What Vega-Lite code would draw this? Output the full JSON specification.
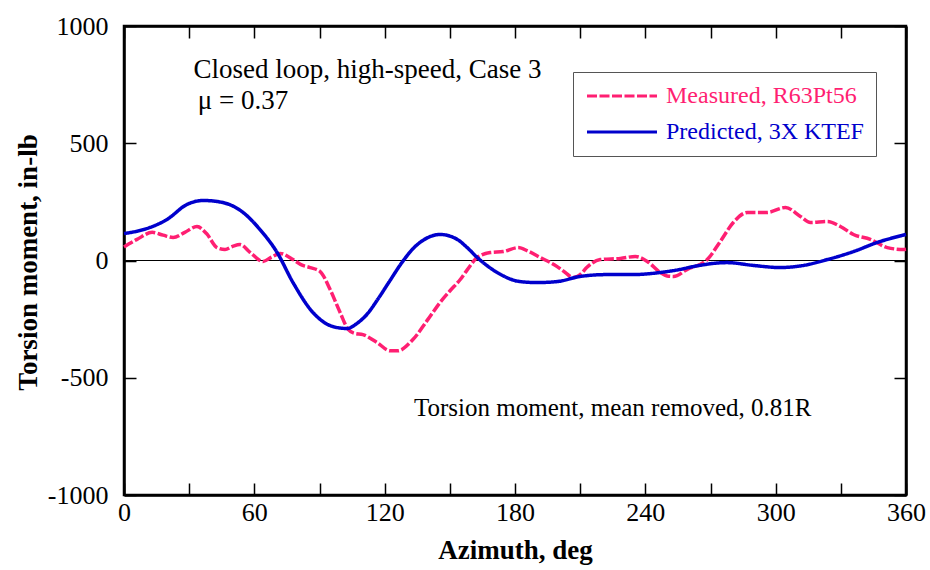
{
  "$schema": "https://vega.github.io/schema/vega-lite/v6.json",
  "width": 782,
  "height": 469,
  "autosize": "none",
  "padding": {"left": 124, "top": 26, "right": 24, "bottom": 75},
  "background": "white",
  "config": {
    "font": "Liberation Serif",
    "view": {"stroke": "black", "strokeWidth": 2.5},
    "axis": {
      "grid": false,
      "domainColor": "black",
      "domainWidth": 2.5,
      "tickColor": "black",
      "tickWidth": 1.5,
      "tickSize": -12,
      "labelFont": "Liberation Serif",
      "labelFontSize": 26,
      "labelColor": "black",
      "titleFont": "Liberation Serif",
      "titleFontSize": 27,
      "titleFontWeight": "bold",
      "titleColor": "black"
    }
  },
  "datasets": {
    "lines": [
      {"az": 0, "val": 58, "series": "Measured, R63Pt56"},
      {"az": 6, "val": 90, "series": "Measured, R63Pt56"},
      {"az": 13, "val": 120, "series": "Measured, R63Pt56"},
      {"az": 18, "val": 108, "series": "Measured, R63Pt56"},
      {"az": 22.6, "val": 98, "series": "Measured, R63Pt56"},
      {"az": 28, "val": 120, "series": "Measured, R63Pt56"},
      {"az": 33.6, "val": 145, "series": "Measured, R63Pt56"},
      {"az": 38, "val": 115, "series": "Measured, R63Pt56"},
      {"az": 42.8, "val": 55, "series": "Measured, R63Pt56"},
      {"az": 46.5, "val": 47, "series": "Measured, R63Pt56"},
      {"az": 50, "val": 60, "series": "Measured, R63Pt56"},
      {"az": 53.4, "val": 68, "series": "Measured, R63Pt56"},
      {"az": 58, "val": 35, "series": "Measured, R63Pt56"},
      {"az": 64, "val": -4, "series": "Measured, R63Pt56"},
      {"az": 68, "val": 15, "series": "Measured, R63Pt56"},
      {"az": 71.9, "val": 30, "series": "Measured, R63Pt56"},
      {"az": 77.8, "val": 4, "series": "Measured, R63Pt56"},
      {"az": 82, "val": -20, "series": "Measured, R63Pt56"},
      {"az": 85.7, "val": -30, "series": "Measured, R63Pt56"},
      {"az": 90.3, "val": -47, "series": "Measured, R63Pt56"},
      {"az": 94.9, "val": -124, "series": "Measured, R63Pt56"},
      {"az": 99.5, "val": -222, "series": "Measured, R63Pt56"},
      {"az": 103.2, "val": -294, "series": "Measured, R63Pt56"},
      {"az": 106, "val": -310, "series": "Measured, R63Pt56"},
      {"az": 110, "val": -316, "series": "Measured, R63Pt56"},
      {"az": 116.5, "val": -350, "series": "Measured, R63Pt56"},
      {"az": 122.5, "val": -385, "series": "Measured, R63Pt56"},
      {"az": 126, "val": -385, "series": "Measured, R63Pt56"},
      {"az": 133, "val": -337, "series": "Measured, R63Pt56"},
      {"az": 140, "val": -250, "series": "Measured, R63Pt56"},
      {"az": 145.5, "val": -179, "series": "Measured, R63Pt56"},
      {"az": 150, "val": -130, "series": "Measured, R63Pt56"},
      {"az": 154.8, "val": -81, "series": "Measured, R63Pt56"},
      {"az": 158, "val": -40, "series": "Measured, R63Pt56"},
      {"az": 162.6, "val": 13, "series": "Measured, R63Pt56"},
      {"az": 168.6, "val": 34, "series": "Measured, R63Pt56"},
      {"az": 174.6, "val": 38, "series": "Measured, R63Pt56"},
      {"az": 181.5, "val": 55, "series": "Measured, R63Pt56"},
      {"az": 186, "val": 40, "series": "Measured, R63Pt56"},
      {"az": 191.6, "val": 13, "series": "Measured, R63Pt56"},
      {"az": 199.4, "val": -26, "series": "Measured, R63Pt56"},
      {"az": 203, "val": -50, "series": "Measured, R63Pt56"},
      {"az": 206.8, "val": -73, "series": "Measured, R63Pt56"},
      {"az": 210, "val": -60, "series": "Measured, R63Pt56"},
      {"az": 213, "val": -30, "series": "Measured, R63Pt56"},
      {"az": 219.2, "val": 4, "series": "Measured, R63Pt56"},
      {"az": 228.5, "val": 9, "series": "Measured, R63Pt56"},
      {"az": 235.4, "val": 17, "series": "Measured, R63Pt56"},
      {"az": 240.9, "val": -4, "series": "Measured, R63Pt56"},
      {"az": 246.9, "val": -51, "series": "Measured, R63Pt56"},
      {"az": 250, "val": -66, "series": "Measured, R63Pt56"},
      {"az": 253, "val": -68, "series": "Measured, R63Pt56"},
      {"az": 259.3, "val": -38, "series": "Measured, R63Pt56"},
      {"az": 268.5, "val": 4, "series": "Measured, R63Pt56"},
      {"az": 274.5, "val": 81, "series": "Measured, R63Pt56"},
      {"az": 280.5, "val": 162, "series": "Measured, R63Pt56"},
      {"az": 287, "val": 205, "series": "Measured, R63Pt56"},
      {"az": 296, "val": 205, "series": "Measured, R63Pt56"},
      {"az": 304.5, "val": 226, "series": "Measured, R63Pt56"},
      {"az": 311.4, "val": 188, "series": "Measured, R63Pt56"},
      {"az": 316, "val": 162, "series": "Measured, R63Pt56"},
      {"az": 323.8, "val": 166, "series": "Measured, R63Pt56"},
      {"az": 329.8, "val": 145, "series": "Measured, R63Pt56"},
      {"az": 335.8, "val": 111, "series": "Measured, R63Pt56"},
      {"az": 343.6, "val": 90, "series": "Measured, R63Pt56"},
      {"az": 351.4, "val": 55, "series": "Measured, R63Pt56"},
      {"az": 358.8, "val": 47, "series": "Measured, R63Pt56"},
      {"az": 360, "val": 48, "series": "Measured, R63Pt56"},
      {"az": 0, "val": 115, "series": "Predicted, 3X KTEF"},
      {"az": 6, "val": 125, "series": "Predicted, 3X KTEF"},
      {"az": 12, "val": 141, "series": "Predicted, 3X KTEF"},
      {"az": 19.8, "val": 175, "series": "Predicted, 3X KTEF"},
      {"az": 29, "val": 239, "series": "Predicted, 3X KTEF"},
      {"az": 36.5, "val": 256, "series": "Predicted, 3X KTEF"},
      {"az": 45.6, "val": 247, "series": "Predicted, 3X KTEF"},
      {"az": 54.8, "val": 205, "series": "Predicted, 3X KTEF"},
      {"az": 62.6, "val": 132, "series": "Predicted, 3X KTEF"},
      {"az": 70.5, "val": 34, "series": "Predicted, 3X KTEF"},
      {"az": 77.8, "val": -94, "series": "Predicted, 3X KTEF"},
      {"az": 87, "val": -222, "series": "Predicted, 3X KTEF"},
      {"az": 96.3, "val": -282, "series": "Predicted, 3X KTEF"},
      {"az": 102.7, "val": -290, "series": "Predicted, 3X KTEF"},
      {"az": 107, "val": -270, "series": "Predicted, 3X KTEF"},
      {"az": 112, "val": -228, "series": "Predicted, 3X KTEF"},
      {"az": 117, "val": -163, "series": "Predicted, 3X KTEF"},
      {"az": 122, "val": -92, "series": "Predicted, 3X KTEF"},
      {"az": 128, "val": -8, "series": "Predicted, 3X KTEF"},
      {"az": 133, "val": 50, "series": "Predicted, 3X KTEF"},
      {"az": 138, "val": 88, "series": "Predicted, 3X KTEF"},
      {"az": 145.5, "val": 111, "series": "Predicted, 3X KTEF"},
      {"az": 153.4, "val": 90, "series": "Predicted, 3X KTEF"},
      {"az": 158, "val": 55, "series": "Predicted, 3X KTEF"},
      {"az": 162.6, "val": 13, "series": "Predicted, 3X KTEF"},
      {"az": 171.8, "val": -51, "series": "Predicted, 3X KTEF"},
      {"az": 182.4, "val": -90, "series": "Predicted, 3X KTEF"},
      {"az": 190.2, "val": -94, "series": "Predicted, 3X KTEF"},
      {"az": 199.4, "val": -90, "series": "Predicted, 3X KTEF"},
      {"az": 210, "val": -68, "series": "Predicted, 3X KTEF"},
      {"az": 222.5, "val": -60, "series": "Predicted, 3X KTEF"},
      {"az": 234.5, "val": -60, "series": "Predicted, 3X KTEF"},
      {"az": 246.9, "val": -51, "series": "Predicted, 3X KTEF"},
      {"az": 256, "val": -38, "series": "Predicted, 3X KTEF"},
      {"az": 262, "val": -26, "series": "Predicted, 3X KTEF"},
      {"az": 277.7, "val": -9, "series": "Predicted, 3X KTEF"},
      {"az": 289.7, "val": -21, "series": "Predicted, 3X KTEF"},
      {"az": 302, "val": -30, "series": "Predicted, 3X KTEF"},
      {"az": 312.8, "val": -21, "series": "Predicted, 3X KTEF"},
      {"az": 323.8, "val": 4, "series": "Predicted, 3X KTEF"},
      {"az": 335.8, "val": 38, "series": "Predicted, 3X KTEF"},
      {"az": 346.8, "val": 77, "series": "Predicted, 3X KTEF"},
      {"az": 360, "val": 111, "series": "Predicted, 3X KTEF"}
    ],
    "notesTop": [
      {"az": 32, "val": 812, "text": "Closed loop, high-speed, Case 3"},
      {"az": 34, "val": 680, "text": "μ = 0.37"}
    ],
    "notesBottom": [
      {"az": 133.5, "val": -627, "text": "Torsion moment, mean removed, 0.81R"}
    ],
    "zero": [{"val": 0}]
  },
  "layer": [
    {
      "data": {"name": "zero"},
      "mark": {"type": "rule", "color": "black", "strokeWidth": 1.2},
      "encoding": {
        "y": {"field": "val", "type": "quantitative", "axis": null}
      }
    },
    {
      "data": {"name": "lines"},
      "mark": {"type": "line", "strokeWidth": 3.5, "interpolate": "monotone"},
      "encoding": {
        "x": {
          "field": "az", "type": "quantitative",
          "scale": {"domain": [0, 360], "nice": false},
          "axis": {
            "orient": "bottom",
            "title": "Azimuth, deg",
            "values": [0, 30, 60, 90, 120, 150, 180, 210, 240, 270, 300, 330, 360],
            "labelExpr": "datum.value % 60 == 0 ? datum.label : ''",
            "labelPadding": 16,
            "titlePadding": 12,
            "labelFlush": false
          }
        },
        "y": {
          "field": "val", "type": "quantitative",
          "scale": {"domain": [-1000, 1000], "nice": false},
          "axis": {
            "orient": "left",
            "title": "Torsion moment, in-lb",
            "values": [-1000, -500, 0, 500, 1000],
            "labelExpr": "'' + datum.value",
            "labelPadding": 28,
            "titleX": -96,
            "titleY": 236,
            "titleAngle": -90,
            "titleAlign": "center",
            "titleBaseline": "middle",
            "labelFlush": false
          }
        },
        "color": {
          "field": "series", "type": "nominal",
          "scale": {"domain": ["Measured, R63Pt56", "Predicted, 3X KTEF"], "range": ["#ff1f72", "#0000cc"]},
          "legend": {
            "title": null,
            "orient": "none",
            "legendX": 449,
            "legendY": 46,
            "symbolType": "M-2,0H12",
            "symbolSize": 100,
            "symbolStrokeWidth": 3,
            "labelFont": "Liberation Serif",
            "labelFontSize": 24,
            "labelLimit": 400,
            "labelOffset": 57,
            "rowPadding": 12,
            "padding": 12,
            "strokeColor": "#555555",
            "fillColor": "white",
            "encode": {
              "labels": {"update": {"fill": {"signal": "datum.value === 'Measured, R63Pt56' ? '#ff1f72' : '#0000cc'"}}}
            }
          }
        },
        "strokeDash": {
          "field": "series", "type": "nominal",
          "scale": {"domain": ["Measured, R63Pt56", "Predicted, 3X KTEF"], "range": [[10, 2.5], [1, 0]]},
          "legend": null
        }
      }
    },
    {
      "data": {"name": "notesTop"},
      "mark": {"type": "text", "align": "left", "baseline": "middle", "font": "Liberation Serif", "fontSize": 27, "color": "black"},
      "encoding": {
        "x": {
          "field": "az", "type": "quantitative",
          "axis": {"orient": "top", "title": null, "labels": false, "values": [0, 30, 60, 90, 120, 150, 180, 210, 240, 270, 300, 330, 360]}
        },
        "y": {
          "field": "val", "type": "quantitative",
          "axis": {"orient": "right", "title": null, "labels": false, "values": [-1000, -500, 0, 500, 1000]}
        },
        "text": {"field": "text"}
      }
    },
    {
      "data": {"name": "notesBottom"},
      "mark": {"type": "text", "align": "left", "baseline": "middle", "font": "Liberation Serif", "fontSize": 25, "color": "black"},
      "encoding": {
        "x": {"field": "az", "type": "quantitative", "axis": null},
        "y": {"field": "val", "type": "quantitative", "axis": null},
        "text": {"field": "text"}
      }
    }
  ],
  "resolve": {"axis": {"x": "independent", "y": "independent"}}
}
